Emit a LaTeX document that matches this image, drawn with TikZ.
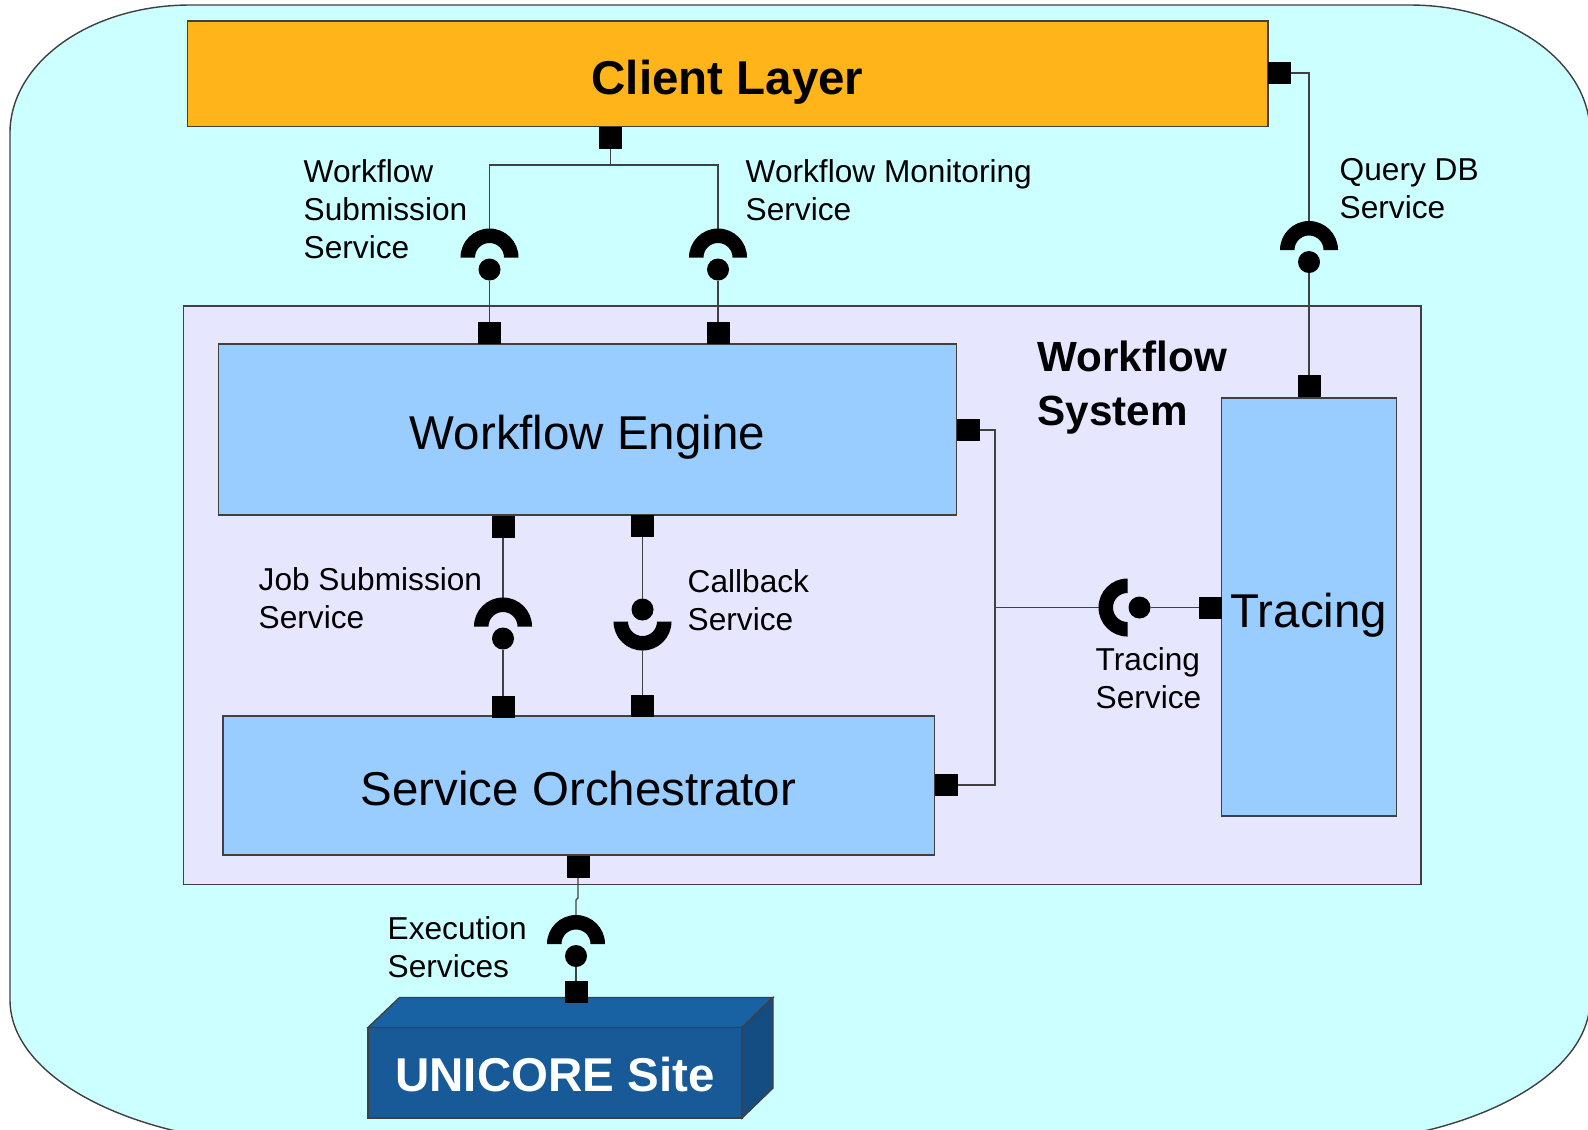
\documentclass[tikz,border=0pt]{standalone}
\usepackage{fontspec}
\setmainfont{Liberation Sans}
\definecolor{bgcyan}{HTML}{CCFFFF}
\definecolor{clorange}{HTML}{FFB41A}
\definecolor{wslav}{HTML}{E6E6FF}
\definecolor{engblue}{HTML}{99CCFF}
\definecolor{ucfront}{HTML}{175A97}
\definecolor{uctop}{HTML}{1862A4}
\definecolor{ucside}{HTML}{134D82}
\newcommand{\mycupdown}[1]{\fill (#1) ++(-0.29cm,0pt) arc[start angle=180,end angle=0,radius=0.29cm] -- ++(-0.145cm,0pt) arc[start angle=0,end angle=180,radius=0.145cm] -- cycle;}
\newcommand{\mycupup}[1]{\fill (#1) ++(-0.29cm,0pt) arc[start angle=180,end angle=360,radius=0.29cm] -- ++(-0.145cm,0pt) arc[start angle=360,end angle=180,radius=0.145cm] -- cycle;}
\newcommand{\mycupright}[1]{\fill (#1) ++(0pt,0.29cm) arc[start angle=90,end angle=270,radius=0.29cm] -- ++(0pt,0.145cm) arc[start angle=270,end angle=90,radius=0.145cm] -- cycle;}
\begin{document}
\begin{tikzpicture}[x=0.01cm,y=-0.01cm,
  port/.style={rectangle,fill=black,minimum width=0.23cm,minimum height=0.22cm,inner sep=0pt,outer sep=0pt},
  ball/.style={circle,fill=black,minimum size=0.22cm,inner sep=0pt,outer sep=0pt},
  conn/.style={draw=black!75,line width=0.35pt},
  outline/.style={draw=black!75,line width=0.4pt},
  compbox/.style={outline,fill=engblue,inner sep=0pt},
  bigfont/.style={font=\fontsize{13.5}{16}\selectfont,inner sep=0pt},
  bigbold/.style={font=\bfseries\fontsize{13.5}{16}\selectfont,inner sep=0pt},
  lbl/.style={font=\fontsize{9}{10.8}\selectfont,align=left,anchor=base west,inner sep=0pt}]
\useasboundingbox (0,0) rectangle (1588,1129);
\clip (0,0) rectangle (1588,1129);
% background rounded area
\draw[outline,fill=bgcyan] (190,5) -- (1410,5)
  .. controls (1509.4,5) and (1590,62.3) .. (1590,133) -- (1590,1000)
  .. controls (1590,1080) and (1460,1145) .. (1300,1145) -- (300,1145)
  .. controls (140,1145) and (10,1080) .. (10,1000) -- (10,133)
  .. controls (10,62.3) and (90.6,5) .. (190,5) -- cycle;
% boxes
\node[outline,fill=clorange,minimum width=10.795cm,minimum height=1.055cm,inner sep=0pt] (CL) at (727.75,73.75) {};
\node[outline,fill=wslav,minimum width=12.365cm,minimum height=5.785cm,inner sep=0pt] (WS) at (802.25,595.25) {};
\node[compbox,minimum width=7.375cm,minimum height=1.71cm] (WE) at (587.75,429.5) {};
\node[compbox,minimum width=7.11cm,minimum height=1.39cm] (SO) at (578.5,785.5) {};
\node[compbox,minimum width=1.75cm,minimum height=4.18cm] (TR) at (1309,607) {};
% UNICORE site (3D box)
\fill[ucfront,outline] (368,1027.5) rectangle (742,1118);
\fill[uctop,outline] (368,1027.5) -- (399.5,997.5) -- (773,997.5) -- (742,1027.5) -- cycle;
\fill[ucside,outline] (742,1027.5) -- (773,997.5) -- (773,1088) -- (742,1118) -- cycle;
% ports
\node[port] (pCLb) at (610.5,138) {};
\node[port] (pCLr) at (1279.5,73) {};
\node[port] (pWEt1) at (489.5,333) {};
\node[port] (pWEt2) at (718,333) {};
\node[port] (pWEr) at (968,430) {};
\node[port] (pWEb1) at (503,527) {};
\node[port] (pWEb2) at (642.5,526) {};
\node[port] (pSOt1) at (503,707) {};
\node[port] (pSOt2) at (642.5,706) {};
\node[port] (pSOr) at (946,785) {};
\node[port] (pSOb) at (578,867) {};
\node[port] (pTRt) at (1309,386) {};
\node[port] (pTRl) at (1210.5,607.5) {};
\node[port] (pUS) at (576,992) {};
% balls
\node[ball] (b1) at (489.5,269.5) {};
\node[ball] (b2) at (718,269.5) {};
\node[ball] (bQ) at (1309,262) {};
\node[ball] (bJ) at (503,638.5) {};
\node[ball] (bC) at (642.5,609.5) {};
\node[ball] (bT) at (1139.5,607.5) {};
\node[ball] (bE) at (576,956) {};
% cup centres and tips
\coordinate (c1) at (489.5,257.5);  \coordinate (c1t) at (489.5,228.5);
\coordinate (c2) at (718,257.5);    \coordinate (c2t) at (718,228.5);
\coordinate (cQ) at (1309,250);     \coordinate (cQt) at (1309,221);
\coordinate (cJ) at (503,626.5);    \coordinate (cJt) at (503,597.5);
\coordinate (cC) at (642.5,621.5);  \coordinate (cCb) at (642.5,650.5);
\coordinate (cT) at (1127.5,607.5); \coordinate (cTl) at (1098.5,607.5);
\coordinate (cE) at (576,944);      \coordinate (cEt) at (576,915);
% junctions
\coordinate (j1) at (610.5,165);
\coordinate (jt1) at (995,430);
\coordinate (jt2) at (995,607.5);
\coordinate (jt3) at (995,785);
\coordinate (je1) at (578,898);
\coordinate (je2) at (576,900);
% connectors
\draw[conn] (pCLb.south) -- (j1);
\draw[conn] (j1) -| (c1t);
\draw[conn] (j1) -| (c2t);
\draw[conn] (b1) -- (pWEt1);
\draw[conn] (b2) -- (pWEt2);
\draw[conn] (pCLr.east) -| (cQt);
\draw[conn] (bQ) -- (pTRt);
\draw[conn] (pWEb1) -- (cJt);
\draw[conn] (bJ) -- (pSOt1);
\draw[conn] (pWEb2) -- (bC);
\draw[conn] (cCb) -- (pSOt2);
\draw[conn] (pWEr.east) -- (jt1) -- (jt3) -- (pSOr.east);
\draw[conn] (jt2) -- (cTl);
\draw[conn] (bT) -- (pTRl);
\draw[conn] (pSOb.south) -- (je1) -- (je2) -- (cEt);
\draw[conn] (bE) -- (pUS);
% cups
\mycupdown{c1}
\mycupdown{c2}
\mycupdown{cQ}
\mycupdown{cJ}
\mycupup{cC}
\mycupright{cT}
\mycupdown{cE}
% texts
\node[bigbold,anchor=base] (tCL) at (727.5,94) {Client Layer};
\node[bigfont,anchor=base] (tWE) at (587.5,449.5) {Workflow Engine};
\node[bigfont,anchor=base] (tSO) at (578.5,805) {Service Orchestrator};
\node[bigfont,anchor=base] (tTR) at (1309,627) {Tracing};
\node[bigbold,anchor=base,text=white] (tUS) at (555,1091) {UNICORE Site};
\node[font=\bfseries\fontsize{12}{15.1}\selectfont,align=left,anchor=base west,inner sep=0pt] (tWS) at (1037,425) {Workflow\\System};
\node[lbl] (lWSS) at (303,258) {Workflow\\Submission\\Service};
\node[lbl] (lWMS) at (745,220) {Workflow Monitoring\\Service};
\node[lbl] (lQDB) at (1339,218) {Query DB\\Service};
\node[lbl] (lJSS) at (258,628) {Job Submission\\Service};
\node[lbl] (lCBS) at (687,630) {Callback\\Service};
\node[lbl] (lTS) at (1095,708) {Tracing\\Service};
\node[lbl] (lES) at (387,977) {Execution\\Services};
\end{tikzpicture}
\end{document}
